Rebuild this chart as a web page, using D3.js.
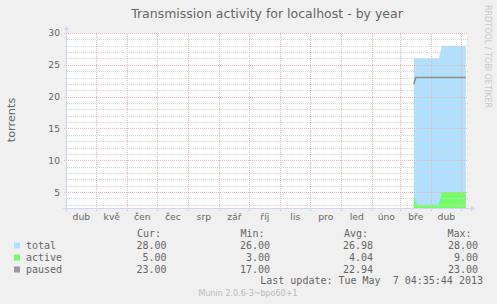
<!DOCTYPE html>
<html>
<head>
<meta charset="utf-8">
<script src="https://cdn.jsdelivr.net/npm/d3@7"></script>
<style>
  body { margin: 0; background: #f0f0f0; }
  text { font-family: "DejaVu Sans", sans-serif; fill: #666; }
  .mono { font-family: "DejaVu Sans Mono", monospace; white-space: pre; }
</style>
</head>
<body>
<div class="svg-container"></div>
<script>
// chart data
var monthNames = ["led", "úno", "bře", "dub", "kvě", "čen", "čec", "srp", "zář", "říj", "lis", "pro"];
var yMajorTicks = [5, 10, 15, 20, 25, 30];
var seriesNames = ["total", "active", "paused"];
var lastUpdate = "2013-05-07T04:35:44";

var totalDates = ["2013-03-15", "2013-04-09", "2013-04-12", "2013-05-06"];
var totalValues = [26, 26, 28, 28];
var activeDates = ["2013-03-15", "2013-03-16", "2013-03-18", "2013-04-09", "2013-04-12", "2013-05-06"];
var activeValues = [4, 4, 3, 3, 5, 5];
var pausedDates = ["2013-03-15", "2013-03-17", "2013-05-06"];
var pausedValues = [22, 23, 23];

var curValues = [28, 5, 23];
var minValues = [26, 3, 17];
var avgValues = [26.98, 4.04, 22.94];
var maxValues = [28, 9, 23];

var seriesColors = ["#b0e0ff", "#70ff66", "#999999"];

var width = 497, height = 304;
var parseDay = d3.utcParse("%Y-%m-%d");
var end = d3.utcParse("%Y-%m-%dT%H:%M:%S")(lastUpdate);
var start = d3.utcDay.offset(end, -400);

var x = d3.scaleUtc().domain([start, end]).range([67, 467]);
var y = d3.scaleLinear().domain([2.5, 30]).range([208, 33]);

function series(dates, values) {
  return dates.map(function(d, i) { return {date: parseDay(d), value: values[i]}; });
}

var svg = d3.select(".svg-container").append("svg")
  .attr("width", width)
  .attr("height", height);

svg.append("rect").attr("width", width).attr("height", height).attr("fill", "#f0f0f0");
svg.append("rect").attr("x", 67).attr("y", 33).attr("width", 400).attr("height", 175).attr("fill", "#fff");

// areas
var area = d3.area()
  .x(function(d) { return x(d.date); })
  .y0(y.range()[0])
  .y1(function(d) { return y(d.value); });

svg.append("path").datum(series(totalDates, totalValues)).attr("d", area).attr("fill", seriesColors[0]);
svg.append("path").datum(series(activeDates, activeValues)).attr("d", area).attr("fill", seriesColors[1]);

// grid (rrdtool puts it over the areas)
var minorTicks = d3.range(3, 31).filter(function(v) { return v % 5 != 0; });

var gMinor = svg.append("g").attr("transform", "translate(67,0)")
  .call(d3.axisLeft(y).tickValues(minorTicks).tickSize(-401).tickFormat(""));
gMinor.select(".domain").remove();
gMinor.selectAll("line").attr("stroke", "#d4d4d4").attr("stroke-dasharray", "1,1").attr("shape-rendering", "crispEdges");

var gMajor = svg.append("g").attr("transform", "translate(64,0)")
  .call(d3.axisLeft(y).tickValues(yMajorTicks).tickSize(-404).tickFormat(""));
gMajor.select(".domain").remove();
gMajor.selectAll("line").attr("stroke", "#f4b0b0").attr("stroke-dasharray", "1,1").attr("shape-rendering", "crispEdges");

var monthStarts = d3.utcMonth.range(start, end);
var gVert = svg.append("g").attr("transform", "translate(0,211)")
  .call(d3.axisBottom(x).tickValues(monthStarts).tickSize(-178).tickFormat(""));
gVert.select(".domain").remove();
gVert.selectAll("line").attr("stroke", "#f4b0b0").attr("stroke-dasharray", "1,1").attr("shape-rendering", "crispEdges");

// axis lines with arrows
var axisColor = "#cfd6f8";
svg.append("line").attr("x1", 63).attr("x2", 471).attr("y1", 208.5).attr("y2", 208.5).attr("stroke", axisColor);
svg.append("path").attr("d", "M471,205.5L475,208.5L471,211.5Z").attr("fill", axisColor);
svg.append("line").attr("x1", 66.5).attr("x2", 66.5).attr("y1", 212).attr("y2", 30).attr("stroke", axisColor);
svg.append("path").attr("d", "M63.5,30L66.5,26L69.5,30Z").attr("fill", axisColor);

// paused line
var line = d3.line()
  .x(function(d) { return x(d.date); })
  .y(function(d) { return y(d.value); });
svg.append("path").datum(series(pausedDates, pausedValues))
  .attr("d", line)
  .attr("fill", "none")
  .attr("stroke", "#8c8c8c")
  .attr("stroke-width", 1.5);

// y labels
var gY = svg.append("g").attr("transform", "translate(67,0)")
  .call(d3.axisLeft(y).tickValues(yMajorTicks).tickSize(0).tickPadding(7));
gY.select(".domain").remove();
gY.selectAll("text").attr("fill", "#666").style("font-size", "9.2px").attr("font-family", null);

// month labels, centred in each month
var months = d3.utcMonth.range(d3.utcMonth.floor(start), end);
var mids = months.map(function(m) {
  var next = d3.utcMonth.offset(m, 1);
  return new Date((m.getTime() + next.getTime()) / 2);
}).filter(function(d) { return x(d) > 67 && x(d) < 467; });

var gX = svg.append("g").attr("transform", "translate(0,208)")
  .call(d3.axisBottom(x).tickValues(mids).tickSize(0)
    .tickFormat(function(d) { return monthNames[d.getUTCMonth()]; }));
gX.select(".domain").remove();
gX.selectAll("text").attr("fill", "#666").attr("y", 12).attr("dy", null).style("font-size", "9.2px").attr("font-family", null);

// titles
svg.append("text").attr("x", 267).attr("y", 18).attr("text-anchor", "middle")
  .style("font-size", "12.5px").text("Transmission activity for localhost - by year");
svg.append("text").attr("transform", "translate(15,120) rotate(-90)").attr("text-anchor", "middle")
  .style("font-size", "11.3px").text("torrents");
svg.append("text").attr("transform", "translate(485,5) rotate(90)")
  .style("font-size", "8px").style("fill", "#c8c8c8").text("RRDTOOL / TOBI OETIKER");
svg.append("text").attr("x", 248).attr("y", 296).attr("text-anchor", "middle")
  .style("font-size", "8px").style("fill", "#bbb").text("Munin 2.0.6-3~bpo60+1");

// legend
var colLeft = [137, 240.5, 344, 447.5];
var colRight = [166.5, 270, 373, 478];
var headers = ["Cur:", "Min:", "Avg:", "Max:"];
var columns = [curValues, minValues, avgValues, maxValues];
var fmt = d3.format(".2f");

var legend = svg.append("g").style("font-size", "10px");
legend.selectAll("text.head").data(headers).enter().append("text")
  .attr("class", "mono head")
  .attr("x", function(d, i) { return colLeft[i]; })
  .attr("y", 237)
  .text(function(d) { return d; });

seriesNames.forEach(function(name, r) {
  var by = 249 + r * 12;
  legend.append("rect").attr("x", 14).attr("y", by - 6.5).attr("width", 6).attr("height", 6)
    .attr("fill", seriesColors[r]);
  legend.append("text").attr("class", "mono").attr("x", 26).attr("y", by).text(name);
  columns.forEach(function(col, c) {
    legend.append("text").attr("class", "mono")
      .attr("x", colRight[c]).attr("y", by).attr("text-anchor", "end")
      .text(fmt(col[r]));
  });
});

legend.append("text").attr("class", "mono").attr("x", 483).attr("y", 284).attr("text-anchor", "end")
  .text("Last update: Tue May  7 04:35:44 2013");
</script>
</body>
</html>
